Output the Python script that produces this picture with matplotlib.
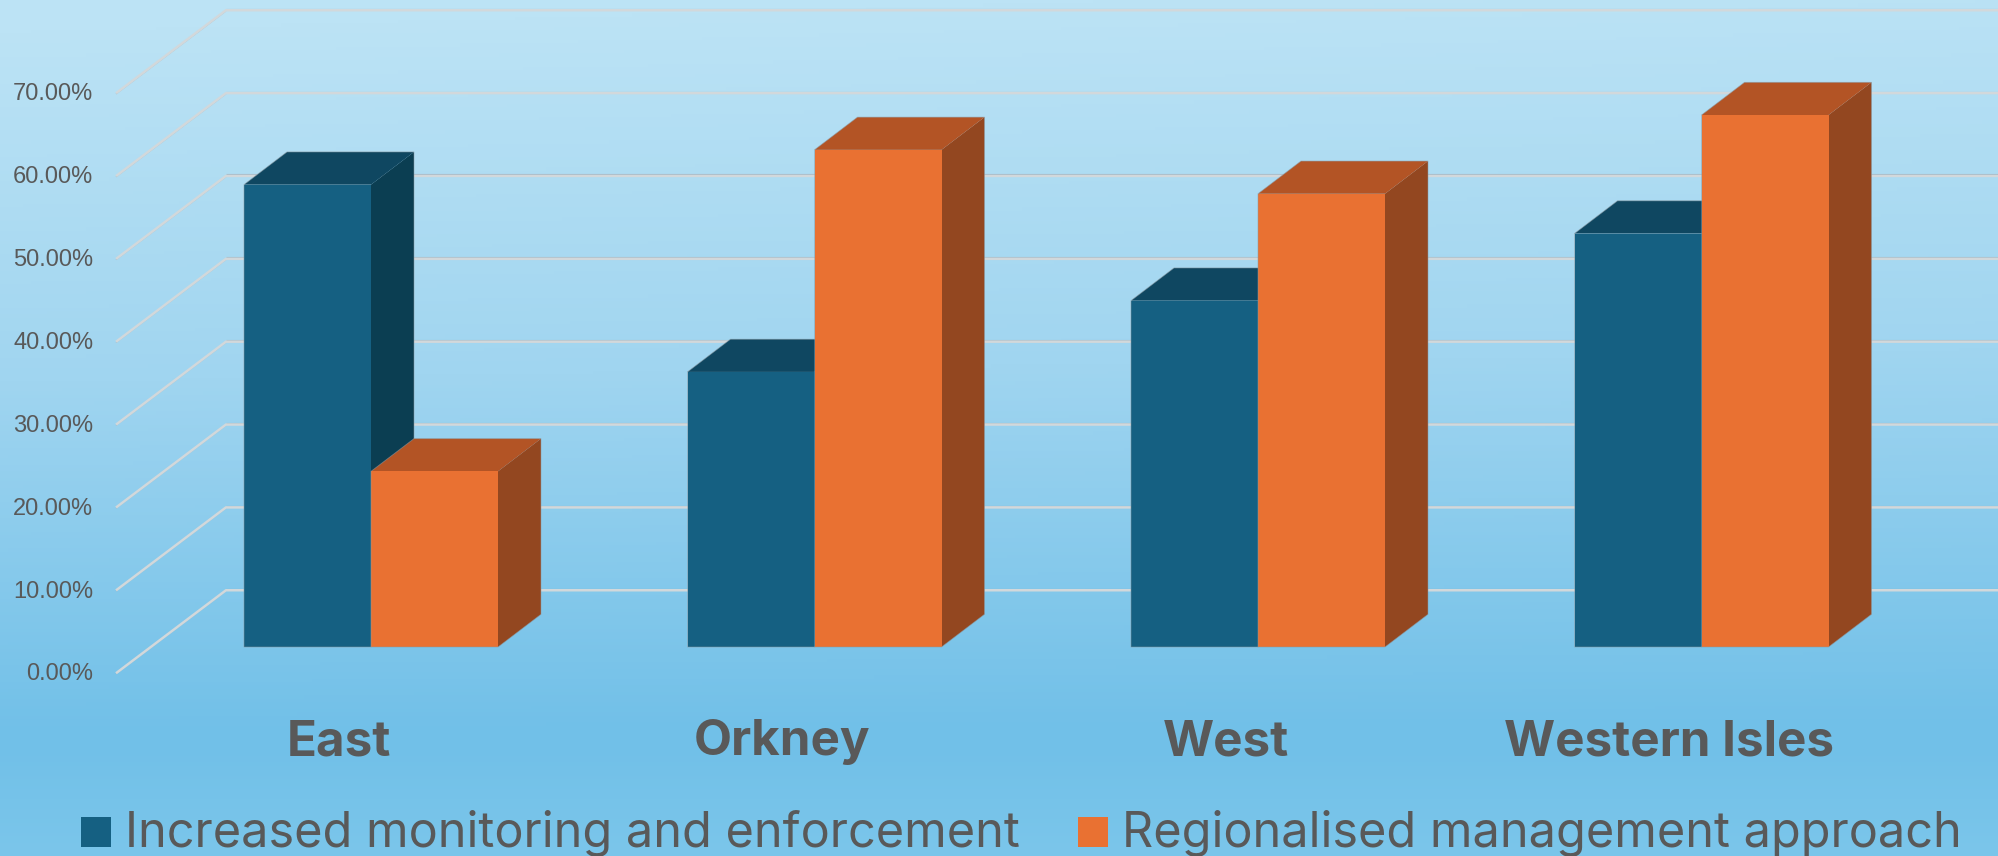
import numpy as np
import matplotlib
matplotlib.use("Agg")
import matplotlib.pyplot as plt
from matplotlib.colors import LinearSegmentedColormap
from matplotlib.patches import Polygon, Rectangle

W, H = 1998, 856

regions = ['East', 'Orkney', 'West', 'Western Isles']
series_names = ['Increased monitoring and enforcement', 'Regionalised management approach']
monitoring = [55.8, 33.2, 41.8, 49.9]
regionalised = [21.2, 60.0, 54.7, 64.2]
y_ticks = [0, 10, 20, 30, 40, 50, 60, 70]

blue = ['#156082', '#0F4761', '#0B3E52']
orange = ['#E97132', '#B35425', '#934720']
text_col = '#595959'

fig = plt.figure(figsize=(W / 100, H / 100), dpi=100)
ax = fig.add_axes([0, 0, 1, 1])

# one unit on x is one category, one unit on y is one percent
px_x = 443.5
px_y = 8.286
x0 = 371
y0 = 647
xlim = (-x0 / px_x, (W - x0) / px_x)
ylim = ((y0 - H) / px_y, y0 / px_y)
ax.set_xlim(xlim)
ax.set_ylim(ylim)
ax.axis('off')


def fx(p):
    return (p - x0) / px_x


def fy(p):
    return (y0 - p) / px_y


gy = np.linspace(0, 1, 256)[:, None]
gx = np.linspace(0, 1, 256)[None, :]
bg = np.clip(gy * 1.17 + 0.08 * (gx - 0.5) * (1 - gy), 0, 1)
cmap = LinearSegmentedColormap.from_list('bg', ['#BCE3F5', '#A0D5F0', '#71C0E8'])
bg = cmap(bg)
low = gy[:, 0] > 0.87
bg[low, :, :3] += ((gy[low] - 0.87) * np.array([[0.3, 0.18, 0.08]]))[:, None, :]
ax.imshow(np.clip(bg, 0, 1), extent=[xlim[0], xlim[1], ylim[0], ylim[1]],
          origin='upper', aspect='auto', zorder=0)
ax.set_xlim(xlim)
ax.set_ylim(ylim)

# grid floor sits lower than the bars, and goes further back
grid_left = fx(116)
grid_back = fx(226)
grid_right = xlim[1]
grid_drop = -26 / px_y
grid_rise = 83 / px_y

for t in y_ticks:
    yf = t + grid_drop
    yb = yf + grid_rise
    xs = [grid_left, grid_back, grid_right]
    ys = [yf, yb, yb]
    ax.plot(xs[1:], [yb + 0.15, yb + 0.15], color='#9AA8B2', lw=0.8, alpha=0.7, zorder=1, solid_capstyle='butt')
    ax.plot(xs[:2], [yf - 0.12, yb - 0.12], color='#9AA8B2', lw=0.8, alpha=0.7, zorder=1, solid_capstyle='butt')
    ax.plot(xs, [v - 0.03 for v in ys], color='#D2D8DB', lw=1.8, zorder=2, solid_capstyle='butt')
    ax.text(fx(93.5), yf - 1.5 / px_y, '%.2f%%' % t, ha='right', va='center', fontsize=17,
            family='Liberation Sans', color=text_col, zorder=5)

bar_w = 127 / px_x
dx = 43 / px_x
dy = 32.7 / px_y


def draw_bar(left, val, cols):
    right = left + bar_w
    ax.add_patch(Polygon([(right, 0), (right + dx, dy), (right + dx, val + dy), (right, val)],
                         fc=cols[2], ec='none', zorder=3))
    ax.add_patch(Polygon([(left, val), (left + dx, val + dy), (right + dx, val + dy), (right, val)],
                         fc=cols[1], ec='none', zorder=3))
    ax.add_patch(Rectangle((left, 0), bar_w, val, fc=cols[0], ec='none', zorder=3))
    # thin grey outline round the whole box
    ax.add_patch(Polygon([(left, 0), (right, 0), (right + dx, dy), (right + dx, val + dy),
                          (left + dx, val + dy), (left, val)],
                         fc='none', ec=(0.55, 0.6, 0.63, 0.6), lw=0.6, zorder=3))


for i, name in enumerate(regions):
    draw_bar(i - bar_w, monitoring[i], blue)
    draw_bar(i, regionalised[i], orange)
    ax.text(i - 32 / px_x, fy(755), name, ha='center', va='baseline', fontsize=35.5,
            family='Inter', weight='bold', color=text_col, zorder=5)

# legend
sw = 30 / px_x
sh = 30 / px_y
for lx, tx, cols, label in [(81, 125, blue, series_names[0]), (1078, 1122, orange, series_names[1])]:
    ax.add_patch(Rectangle((fx(lx), fy(847)), sw, sh, fc=cols[0], ec='none', zorder=5))
    ax.text(fx(tx), fy(847), label, ha='left', va='baseline', fontsize=35,
            family='Inter', weight='normal', color=text_col, zorder=5)

fig.savefig('out.png', dpi=100)
